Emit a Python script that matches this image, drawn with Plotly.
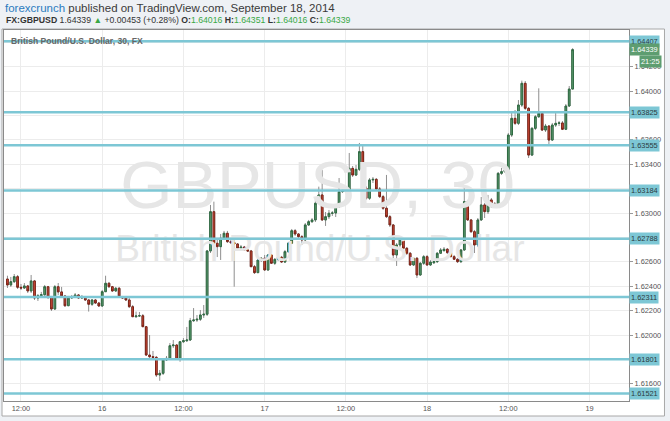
import numpy as np
import pandas as pd
import plotly.graph_objects as go

# ---------------- data ----------------
start_time = "2014-09-15 10:00"
bar_freq = "30min"

open_ = [1.62459, 1.62410, 1.62437, 1.62478, 1.62391, 1.62385, 1.62402, 1.62361, 1.62443, 1.62303,
         1.62322, 1.62330, 1.62396, 1.62309, 1.62213, 1.62396, 1.62353, 1.62320, 1.62240, 1.62304,
         1.62312, 1.62328, 1.62303, 1.62312, 1.62287, 1.62252, 1.62287, 1.62262, 1.62238, 1.62355,
         1.62424, 1.62396, 1.62361, 1.62383, 1.62314, 1.62303, 1.62287, 1.62232, 1.62150, 1.62156,
         1.62158, 1.62068, 1.61836, 1.61822, 1.61817, 1.61672, 1.61686, 1.61795, 1.61809, 1.61912,
         1.61918, 1.61801, 1.61945, 1.61953, 1.61959, 1.62117, 1.62123, 1.62129, 1.62164, 1.62170,
         1.62689, 1.63011, 1.62752, 1.62724, 1.62793, 1.62834, 1.62765, 1.62757, 1.62746, 1.62711,
         1.62721, 1.62697, 1.62689, 1.62560, 1.62511, 1.62615, 1.62629, 1.62533, 1.62656, 1.62588,
         1.62620, 1.62637, 1.62598, 1.62683, 1.62752, 1.62855, 1.62828, 1.62806, 1.62779, 1.62902,
         1.62929, 1.62943, 1.63080, 1.63148, 1.62943, 1.62970, 1.62998, 1.63000, 1.63052, 1.63175,
         1.63183, 1.63175, 1.63366, 1.63311, 1.63358, 1.63503, 1.63205, 1.63121, 1.63271, 1.63276,
         1.63197, 1.63134, 1.63039, 1.62970, 1.62902, 1.62656, 1.62738, 1.62779, 1.62711, 1.62670,
         1.62574, 1.62629, 1.62492, 1.62588, 1.62642, 1.62574, 1.62592, 1.62601, 1.62670, 1.62691,
         1.62703, 1.62675, 1.62642, 1.62621, 1.62601, 1.62697, 1.63093, 1.62943, 1.62847, 1.62738,
         1.62943, 1.63066, 1.63011, 1.63107, 1.63074, 1.63057, 1.63325, 1.63339, 1.63353, 1.63639,
         1.63776, 1.63735, 1.63885, 1.64063, 1.63858, 1.63475, 1.63694, 1.63789, 1.63817, 1.63680,
         1.63713, 1.63598, 1.63721, 1.63735, 1.63738, 1.63686, 1.63877, 1.64016]

high = [1.62486, 1.62476, 1.62500, 1.62492, 1.62418, 1.62426, 1.62410, 1.62492, 1.62451, 1.62336,
        1.62353, 1.62410, 1.62402, 1.62320, 1.62410, 1.62426, 1.62394, 1.62328, 1.62320, 1.62328,
        1.62344, 1.62336, 1.62328, 1.62320, 1.62295, 1.62295, 1.62295, 1.62271, 1.62369, 1.62486,
        1.62435, 1.62402, 1.62394, 1.62394, 1.62320, 1.62320, 1.62303, 1.62246, 1.62192, 1.62189,
        1.62172, 1.62074, 1.62000, 1.61869, 1.61828, 1.61713, 1.61811, 1.61828, 1.61934, 1.61959,
        1.61926, 1.61951, 1.61975, 1.62066, 1.62140, 1.62221, 1.62164, 1.62205, 1.62246, 1.62697,
        1.63066, 1.63093, 1.62779, 1.62828, 1.62853, 1.62853, 1.62795, 1.62779, 1.62754, 1.62738,
        1.62730, 1.62705, 1.62697, 1.62574, 1.62631, 1.62639, 1.62656, 1.62664, 1.62664, 1.62631,
        1.62656, 1.62648, 1.62697, 1.62762, 1.62869, 1.62869, 1.62836, 1.62820, 1.62918, 1.62943,
        1.62959, 1.63107, 1.63216, 1.63353, 1.63008, 1.63025, 1.63016, 1.63066, 1.63287, 1.63205,
        1.63197, 1.63492, 1.63385, 1.63394, 1.63574, 1.63557, 1.63221, 1.63287, 1.63295, 1.63287,
        1.63213, 1.63148, 1.63312, 1.62984, 1.62910, 1.62754, 1.62803, 1.62787, 1.62721, 1.62680,
        1.62639, 1.62639, 1.62598, 1.62656, 1.62656, 1.62615, 1.62615, 1.62680, 1.62713, 1.62721,
        1.62713, 1.62697, 1.62656, 1.62631, 1.62705, 1.63216, 1.63107, 1.62951, 1.62861, 1.62959,
        1.63131, 1.63082, 1.63148, 1.63123, 1.63090, 1.63336, 1.63369, 1.63385, 1.63656, 1.63828,
        1.63844, 1.63926, 1.64085, 1.64082, 1.63869, 1.63705, 1.63803, 1.64022, 1.63828, 1.63730,
        1.63721, 1.63738, 1.63828, 1.63754, 1.63754, 1.63893, 1.64041, 1.64351]

low = [1.62385, 1.62394, 1.62426, 1.62377, 1.62369, 1.62377, 1.62344, 1.62344, 1.62287, 1.62279,
       1.62312, 1.62320, 1.62295, 1.62197, 1.62205, 1.62328, 1.62312, 1.62230, 1.62238, 1.62295,
       1.62303, 1.62295, 1.62295, 1.62279, 1.62192, 1.62238, 1.62254, 1.62230, 1.62230, 1.62353,
       1.62385, 1.62353, 1.62353, 1.62312, 1.62295, 1.62279, 1.62221, 1.62148, 1.62140, 1.62148,
       1.62066, 1.61828, 1.61811, 1.61803, 1.61656, 1.61625, 1.61672, 1.61787, 1.61795, 1.61894,
       1.61795, 1.61781, 1.61934, 1.61943, 1.61951, 1.62107, 1.62107, 1.62115, 1.62140, 1.62156,
       1.62672, 1.62738, 1.62639, 1.62615, 1.62779, 1.62754, 1.62746, 1.62396, 1.62697, 1.62705,
       1.62689, 1.62680, 1.62557, 1.62500, 1.62508, 1.62598, 1.62525, 1.62525, 1.62582, 1.62574,
       1.62607, 1.62590, 1.62590, 1.62672, 1.62746, 1.62812, 1.62795, 1.62738, 1.62771, 1.62894,
       1.62918, 1.62926, 1.63074, 1.62935, 1.62894, 1.62951, 1.62976, 1.62967, 1.63041, 1.63164,
       1.63164, 1.63164, 1.63295, 1.63303, 1.63344, 1.63197, 1.63107, 1.63107, 1.63246, 1.63180,
       1.63123, 1.63025, 1.62959, 1.62885, 1.62631, 1.62566, 1.62721, 1.62697, 1.62656, 1.62566,
       1.62566, 1.62467, 1.62484, 1.62574, 1.62566, 1.62566, 1.62582, 1.62590, 1.62664, 1.62686,
       1.62664, 1.62639, 1.62615, 1.62590, 1.62590, 1.62689, 1.62935, 1.62836, 1.62672, 1.62721,
       1.62935, 1.62959, 1.62992, 1.63041, 1.63041, 1.63049, 1.63312, 1.63328, 1.63344, 1.63623,
       1.63721, 1.63721, 1.63869, 1.63844, 1.63451, 1.63467, 1.63680, 1.63779, 1.63672, 1.63664,
       1.63557, 1.63590, 1.63705, 1.63713, 1.63680, 1.63680, 1.63869, 1.64016]

close = [1.62410, 1.62437, 1.62478, 1.62391, 1.62385, 1.62402, 1.62361, 1.62443, 1.62303, 1.62322,
         1.62330, 1.62396, 1.62309, 1.62213, 1.62396, 1.62353, 1.62320, 1.62240, 1.62304, 1.62312,
         1.62328, 1.62303, 1.62312, 1.62287, 1.62252, 1.62287, 1.62262, 1.62238, 1.62355, 1.62424,
         1.62396, 1.62361, 1.62383, 1.62314, 1.62303, 1.62287, 1.62232, 1.62150, 1.62156, 1.62158,
         1.62068, 1.61836, 1.61822, 1.61817, 1.61672, 1.61686, 1.61795, 1.61809, 1.61912, 1.61918,
         1.61801, 1.61945, 1.61953, 1.61959, 1.62117, 1.62123, 1.62129, 1.62164, 1.62170, 1.62689,
         1.63011, 1.62752, 1.62724, 1.62793, 1.62834, 1.62765, 1.62757, 1.62746, 1.62711, 1.62721,
         1.62697, 1.62689, 1.62560, 1.62511, 1.62615, 1.62629, 1.62533, 1.62656, 1.62588, 1.62620,
         1.62637, 1.62598, 1.62683, 1.62752, 1.62855, 1.62828, 1.62806, 1.62779, 1.62902, 1.62929,
         1.62943, 1.63080, 1.63148, 1.62943, 1.62970, 1.62998, 1.63000, 1.63052, 1.63175, 1.63183,
         1.63175, 1.63366, 1.63311, 1.63358, 1.63503, 1.63205, 1.63121, 1.63271, 1.63276, 1.63197,
         1.63134, 1.63039, 1.62970, 1.62902, 1.62656, 1.62738, 1.62779, 1.62711, 1.62670, 1.62574,
         1.62629, 1.62492, 1.62588, 1.62642, 1.62574, 1.62598, 1.62601, 1.62670, 1.62697, 1.62703,
         1.62675, 1.62642, 1.62621, 1.62601, 1.62697, 1.63093, 1.62943, 1.62847, 1.62738, 1.62943,
         1.63066, 1.63011, 1.63107, 1.63074, 1.63057, 1.63325, 1.63339, 1.63353, 1.63639, 1.63776,
         1.63735, 1.63885, 1.64063, 1.63858, 1.63475, 1.63694, 1.63789, 1.63817, 1.63680, 1.63713,
         1.63598, 1.63721, 1.63735, 1.63738, 1.63686, 1.63877, 1.64016, 1.64339]

support_levels = [1.64407, 1.63825, 1.63555, 1.63184, 1.62788, 1.62311, 1.61801, 1.61521]
y_tick_vals = [1.616, 1.618, 1.620, 1.622, 1.624, 1.626, 1.628, 1.630,
               1.632, 1.634, 1.636, 1.638, 1.640, 1.642, 1.644]
y_tick_text = ["1.61600", "", "1.62000", "1.62200", "1.62400", "1.62600", "", "1.63000",
               "", "1.63400", "1.63600", "", "1.64000", "1.64200", ""]
x_tick_vals = ["2014-09-15 12:00", "2014-09-16 00:00", "2014-09-16 12:00", "2014-09-17 00:00",
               "2014-09-17 12:00", "2014-09-18 00:00", "2014-09-18 12:00", "2014-09-19 00:00"]
x_tick_text = ["12:00", "16", "12:00", "17", "12:00", "18", "12:00", "19"]

symbol = "FX:GBPUSD"
last_price = 1.64339
change_text = "+0.00453 (+0.28%)"
ohlc_last = {"O": 1.64016, "H": 1.64351, "L": 1.64016, "C": 1.64339}
countdown = "21:25"

# ---------------- figure ----------------
times = pd.date_range(start_time, periods=len(close), freq=bar_freq)
o = np.array(open_)
c = np.array(close)
body_hi = np.maximum(o, c)
body_lo = np.minimum(o, c)

W, H = 670, 421
ML, MR, MT, MB = 4, 40.5, 30, 20
PW, PH = W - ML - MR, H - MT - MB


def px_x(x):
    return (x - ML) / PW


def px_y(y):
    return (H - MB - y) / PH


FONT = "Liberation Sans, Arial, sans-serif"
GREEN_TXT = "#3aa845"
LEVEL_COL = "#7dc7d5"

fig = go.Figure()

# watermark (drawn first, behind candles)
fig.add_trace(go.Scatter(
    x=[pd.Timestamp("2014-09-17 07:50")], y=[1.63175], mode="text",
    text=["GBPUSD, 30"], textposition="middle center",
    textfont=dict(family=FONT, size=67, color="#e6e6e6"),
    hoverinfo="skip", showlegend=False, cliponaxis=False))
fig.add_trace(go.Scatter(
    x=[pd.Timestamp("2014-09-17 08:10")], y=[1.62680], mode="text",
    text=["British Pound/U.S. Dollar"], textposition="middle center",
    textfont=dict(family=FONT, size=37, color="#e6e6e6"),
    hoverinfo="skip", showlegend=False, cliponaxis=False))

# wicks
fig.add_trace(go.Candlestick(
    x=times, open=open_, high=high, low=low, close=close,
    increasing=dict(line=dict(color="#8f8f8f", width=1), fillcolor="rgba(0,0,0,0)"),
    decreasing=dict(line=dict(color="#8f8f8f", width=1), fillcolor="rgba(0,0,0,0)"),
    whiskerwidth=0, hoverinfo="skip", showlegend=False))
# bodies
fig.add_trace(go.Candlestick(
    x=times, open=open_, high=body_hi, low=body_lo, close=close,
    increasing=dict(line=dict(color="#2f6a42", width=1), fillcolor="#5f9e72"),
    decreasing=dict(line=dict(color="#7a2216", width=1), fillcolor="#d8503c"),
    whiskerwidth=0, hoverinfo="skip", showlegend=False))

shapes = [
    # white chart panel
    dict(type="rect", xref="paper", yref="paper",
         x0=px_x(2), x1=px_x(665), y0=px_y(416), y1=px_y(29),
         fillcolor="white", line=dict(color="#a8a8a8", width=1), layer="below"),
]
for lv in support_levels:
    shapes.append(dict(type="line", xref="paper", yref="y", x0=0, x1=1, y0=lv, y1=lv,
                       line=dict(color=LEVEL_COL, width=2.5), layer="above"))

annotations = []
for lv in support_levels:
    annotations.append(dict(
        x=px_x(630), y=lv, xref="paper", yref="y", xanchor="left", yanchor="middle",
        text=f"{lv:.5f}", showarrow=False, bgcolor=LEVEL_COL, borderpad=1,
        font=dict(family=FONT, size=7.4, color="#2b3a40")))
annotations.append(dict(
    x=px_x(630), y=last_price, xref="paper", yref="y", xanchor="left", yanchor="middle",
    text=f"{last_price:.5f}", showarrow=False, bgcolor="#5e9d70", borderpad=1,
    font=dict(family=FONT, size=7.4, color="white")))
annotations.append(dict(
    x=px_x(663), y=px_y(61.5), xref="paper", yref="paper", xanchor="right", yanchor="middle",
    text=countdown, showarrow=False, bgcolor="#5e9d70", borderpad=1,
    font=dict(family=FONT, size=7.4, color="white")))

# header
annotations.append(dict(
    x=px_x(3), y=px_y(7.5), xref="paper", yref="paper", xanchor="left", yanchor="middle",
    showarrow=False,
    text="<span style='color:#2b7bbf'>forexcrunch</span> published on TradingView.com, September 18, 2014",
    font=dict(family=FONT, size=11.5, color="#3a3a3a")))
g = lambda v: f"<span style='color:{GREEN_TXT}'>{v:.5f}</span>"
line2 = (f"<b>{symbol}</b> {last_price:.5f} <span style='color:{GREEN_TXT}'>▲</span> {change_text} "
         + " ".join(f"<b>{k}:</b>{g(v)}" for k, v in ohlc_last.items()))
annotations.append(dict(
    x=px_x(4), y=px_y(20), xref="paper", yref="paper", xanchor="left", yanchor="middle",
    showarrow=False, text=line2, font=dict(family=FONT, size=8.7, color="#333333")))
annotations.append(dict(
    x=px_x(9), y=px_y(40.5), xref="paper", yref="paper", xanchor="left", yanchor="middle",
    showarrow=False, text="<b>British Pound/U.S. Dollar, 30, FX</b>",
    font=dict(family=FONT, size=8.6, color="#666666")))

fig.update_layout(
    width=W, height=H,
    margin=dict(l=ML, r=MR, t=MT, b=MB, pad=0),
    paper_bgcolor="#eef1f5", plot_bgcolor="white",
    shapes=shapes, annotations=annotations,
    showlegend=False, hovermode=False,
    font=dict(family=FONT),
)
fig.update_xaxes(
    type="date", range=["2014-09-15 09:29:24", "2014-09-19 05:50:00"],
    rangeslider=dict(visible=False),
    tickvals=x_tick_vals, ticktext=x_tick_text,
    tickfont=dict(family=FONT, size=7.4, color="#555555"),
    showgrid=True, gridcolor="#ececec", gridwidth=1,
    showline=True, linecolor="#8a8a8a", linewidth=1, mirror=True,
    ticks="", zeroline=False, automargin=False,
)
fig.update_yaxes(
    side="right", range=[1.61459, 1.64500],
    tickvals=y_tick_vals, ticktext=y_tick_text,
    tickfont=dict(family=FONT, size=7.4, color="#555555"),
    showgrid=True, gridcolor="#ececec", gridwidth=1,
    showline=True, linecolor="#8a8a8a", linewidth=1, mirror=True,
    ticks="outside", ticklen=3, tickcolor="#999999", zeroline=False, automargin=False,
)

fig.write_html(
    "out.html",
    config={"displayModeBar": False, "staticPlot": True},
    post_script="document.body.style.margin='0';document.body.style.padding='0';"
                "document.body.style.overflow='hidden';",
)
